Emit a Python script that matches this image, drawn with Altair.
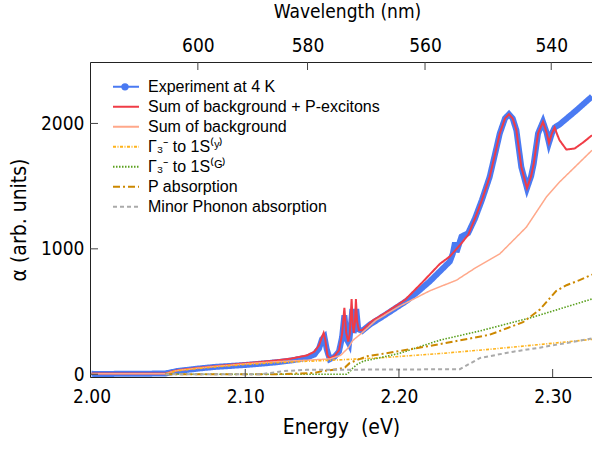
import altair as alt
import pandas as pd

# ---------------- data ----------------
exp_E = [2.000, 2.010, 2.020, 2.030, 2.040, 2.048, 2.052, 2.056, 2.063, 2.070, 2.080, 2.090,
         2.100, 2.110, 2.120, 2.130, 2.140, 2.145, 2.148, 2.150, 2.1515, 2.153, 2.155, 2.158,
         2.161, 2.163, 2.1645, 2.166, 2.1675, 2.169, 2.1697, 2.1705, 2.1715, 2.1722, 2.1735,
         2.176, 2.181, 2.190, 2.200, 2.205, 2.212, 2.220, 2.2266, 2.2331, 2.235, 2.2365, 2.2375,
         2.2407, 2.245, 2.2494, 2.254, 2.259, 2.2626, 2.2656, 2.269, 2.2716, 2.274, 2.2764,
         2.2796, 2.2833, 2.286, 2.2877, 2.2905, 2.2937, 2.296, 2.2976, 2.2995, 2.3013, 2.3045,
         2.315, 2.3256]
exp_a = [3, 2, 4, 3, 5, 6, 16, 26, 36, 46, 58, 66,
         74, 84, 95, 110, 132, 158, 205, 280, 298, 200, 120, 138,
         182, 295, 470, 280, 245, 420, 520, 330, 400, 520, 360,
         345, 395, 465, 545, 585, 655, 740, 820, 899, 960, 1050, 975,
         1098, 1125, 1240, 1390, 1573, 1760, 1920, 2040, 2074, 2040, 1946,
         1653, 1485, 1580, 1680, 1920, 2013, 1930, 1845, 1920, 1968, 1992,
         2100, 2215]

red_E = [2.000, 2.048, 2.052, 2.056, 2.063, 2.070, 2.080, 2.090, 2.100, 2.110, 2.120, 2.130,
         2.140, 2.145, 2.148, 2.150, 2.151, 2.152, 2.1535, 2.155, 2.158, 2.161, 2.163, 2.1645,
         2.1657, 2.167, 2.168, 2.1692, 2.170, 2.1706, 2.1714, 2.172, 2.1728, 2.174, 2.176,
         2.183, 2.190, 2.204, 2.215, 2.2266, 2.2331, 2.2385, 2.245, 2.2494, 2.254, 2.259,
         2.2626, 2.2656, 2.269, 2.2716, 2.274, 2.2764, 2.2796, 2.2833, 2.286, 2.2877, 2.2905,
         2.2937, 2.296, 2.2976, 2.2995, 2.3013, 2.303, 2.3045, 2.3089, 2.3143, 2.320, 2.3256]
red_a = [5, 5, 20, 32, 42, 52, 64, 75, 87, 98, 110, 125,
         150, 180, 230, 300, 330, 280, 150, 125, 145, 190, 320, 530,
         330, 260, 320, 600, 380, 330, 420, 600, 420, 350, 350,
         430, 480, 594, 730, 880, 939, 1013, 1110, 1240, 1390, 1573,
         1760, 1920, 2040, 2074, 2040, 1946, 1653, 1485, 1580, 1680, 1920,
         2013, 1930, 1845, 1920, 1968, 1910, 1866, 1792, 1800, 1850, 1906]

bg_E = [2.000, 2.048, 2.052, 2.056, 2.063, 2.070, 2.080, 2.090, 2.100, 2.120, 2.140, 2.155,
        2.162, 2.167, 2.170, 2.175, 2.185, 2.200, 2.220, 2.2374, 2.250, 2.2656, 2.2829,
        2.2959, 2.3045, 2.3256]
bg_a = [3, 3, 18, 30, 40, 50, 62, 72, 83, 100, 112, 122,
        150, 210, 270, 320, 430, 540, 665, 750, 850, 960, 1173,
        1413, 1533, 1786]

y_E = [2.048, 2.052, 2.056, 2.063, 2.080, 2.100, 2.120, 2.140, 2.160, 2.1877, 2.2266,
       2.260, 2.290, 2.3256]
y_a = [0, 16, 28, 38, 58, 78, 92, 103, 114, 131, 165, 200, 235, 278]

g_E = [2.048, 2.166, 2.168, 2.170, 2.173, 2.177, 2.185, 2.200, 2.2266, 2.2526, 2.287, 2.3256]
g_a = [0, 0, 20, 50, 80, 105, 125, 165, 272, 345, 455, 600]

p_E = [2.048, 2.120, 2.145, 2.150, 2.160, 2.165, 2.168, 2.172, 2.180, 2.2006, 2.2266,
       2.259, 2.2807, 2.2916, 2.3024, 2.309, 2.3175, 2.3256]
p_a = [0, 0, 10, 25, 40, 55, 90, 110, 145, 185, 240, 315, 415, 515, 665, 710, 750, 795]

ph_E = [2.048, 2.110, 2.125, 2.140, 2.2396, 2.2528, 2.2745, 2.2916, 2.3256]
ph_a = [0, 0, 25, 35, 40, 130, 180, 212, 285]

series_names = ["Experiment at 4 K", "Sum of background + P-excitons", "Sum of background",
                "Γ₃⁻ to 1S⁽ʸ⁾", "Γ₃⁻ to 1S⁽ᴳ⁾", "P absorption", "Minor Phonon absorption"]
series_E = [exp_E, red_E, bg_E, y_E, g_E, p_E, ph_E]
series_a = [exp_a, red_a, bg_a, y_a, g_a, p_a, ph_a]

colors = ["#4a7af2", "#f03c46", "#ffa88a", "#ffb31a", "#5aa01e", "#cc8800", "#aaaaaa"]
dashes = [[1, 0], [1, 0], [1, 0], [3, 1.5, 1, 1.5], [1.5, 1.5], [7, 3, 2, 3], [4, 3]]
widths = [6, 2, 1.5, 1.6, 1.6, 2, 2]

energy_ticks = [2.10, 2.20, 2.30]
alpha_ticks = [0, 1000, 2000]
wavelength_ticks = [600, 580, 560, 540]
HC = 1241.5  # eV*nm, conversion used for the top axis

# ---------------- build tables ----------------
rows = []
for name, Es, As in zip(series_names, series_E, series_a):
    for e, a in zip(Es, As):
        rows.append({"series": name, "E": e, "a": a})
df = pd.DataFrame(rows)

W, H = 502, 315
FONT = "DejaVu Sans Condensed, DejaVu Sans"
xs = alt.Scale(domain=[1.999, 2.3256], nice=False, zero=False)
ys = alt.Scale(domain=[-22, 2490], nice=False, zero=False)
cs = alt.Scale(domain=series_names, range=colors)
ds = alt.Scale(domain=series_names, range=dashes)

LEG_X, LEG_Y, SYM, ROW = 22, 15, 26, 19.7
leg = alt.Legend(title=None, orient="none", legendX=LEG_X, legendY=LEG_Y, symbolType="stroke",
                 symbolSize=SYM * SYM, symbolStrokeWidth=2, labelFont="Liberation Sans",
                 labelFontSize=16, labelColor="#000", labelOffset=8, rowPadding=0,
                 clipHeight=ROW, padding=0, labelLimit=400)

layers = []
for name, w in zip(series_names, widths):
    layers.append(
        alt.Chart(df).transform_filter(alt.datum.series == name)
        .mark_line(clip=True, strokeWidth=w, strokeCap="butt")
        .encode(
            x=alt.X("E:Q", scale=xs, axis=None),
            y=alt.Y("a:Q", scale=ys, axis=None),
            color=alt.Color("series:N", scale=cs, legend=leg),
            strokeDash=alt.StrokeDash("series:N", scale=ds, legend=leg),
        )
    )

# circle marker on the "Experiment" legend entry
marker = alt.Chart(pd.DataFrame({"k": [0]})).mark_point(
    filled=True, color=colors[0], size=55, opacity=1
).encode(x=alt.value(LEG_X + SYM / 2), y=alt.value(LEG_Y + ROW / 2))

axis_common = dict(labelFont=FONT, labelFontSize=19, labelColor="#000", titleFont=FONT,
                   titleColor="#000", titleFontWeight="normal", domainColor="#222",
                   domainWidth=1, ticks=False, grid=False)

bottom = (
    alt.Chart(pd.DataFrame({"E": energy_ticks}))
    .mark_rule(color="#444", strokeWidth=1)
    .encode(
        x=alt.X("E:Q", scale=xs, axis=alt.Axis(orient="bottom", values=[2.0, 2.1, 2.2, 2.3],
                format=".2f", title="Energy\u00a0 (eV)", titleFontSize=21, labelPadding=10,
                titlePadding=10, **axis_common)),
        y=alt.value(H), y2=alt.value(H - 8),
    )
)

left = (
    alt.Chart(pd.DataFrame({"a": alpha_ticks}))
    .mark_rule(color="#444", strokeWidth=1)
    .encode(
        y=alt.Y("a:Q", scale=ys, axis=alt.Axis(orient="left", values=alpha_ticks, format="d",
                title="α (arb. units)", titleFontSize=21, labelPadding=6, titlePadding=11,
                **axis_common)),
        x=alt.value(0), x2=alt.value(8),
    )
)

top = (
    alt.Chart(pd.DataFrame({"wl": wavelength_ticks}))
    .transform_calculate(E=f"{HC}/datum.wl")
    .mark_rule(color="#444", strokeWidth=1)
    .encode(
        x=alt.X("E:Q", scale=xs, axis=alt.Axis(orient="top",
                values=[HC / w for w in wavelength_ticks],
                labelExpr=f"format({HC}/datum.value, '.0f')", title="Wavelength (nm)",
                titleFontSize=19, titleX=257, labelPadding=7, titlePadding=15, **axis_common)),
        y=alt.value(0), y2=alt.value(8),
    )
)

chart = (
    alt.layer(*layers, bottom, left, top, marker)
    .resolve_axis(x="independent", y="independent")
    .properties(width=W, height=H, autosize=alt.AutoSizeParams(type="none"),
                padding={"left": 90, "top": 62, "right": 0, "bottom": 74})
    .configure_view(stroke=None)
    .configure(background="white")
)

chart.save("out.html", embed_options={"renderer": "svg", "actions": False})
